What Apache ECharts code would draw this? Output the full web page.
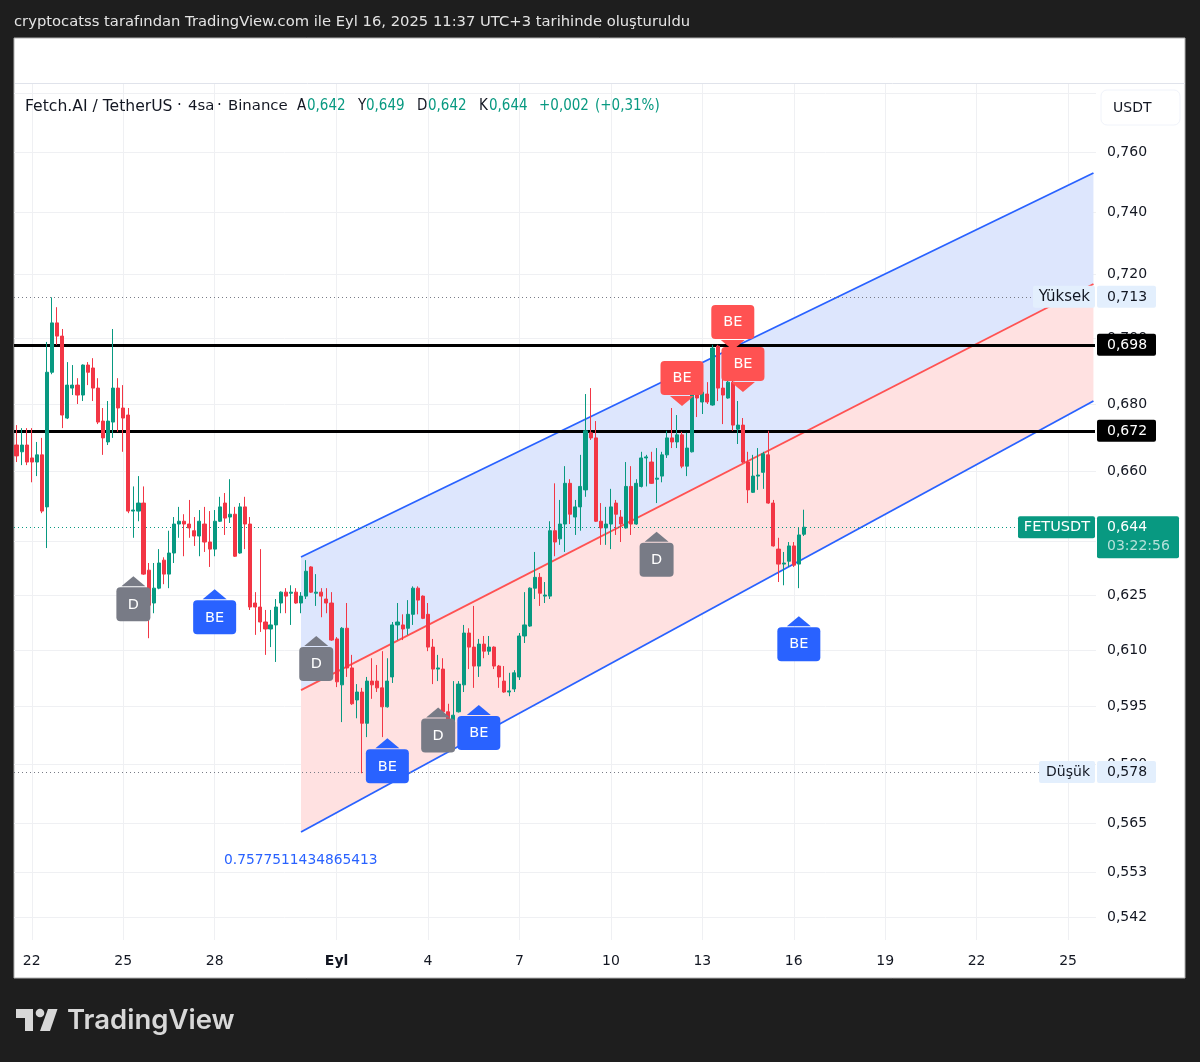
<!DOCTYPE html>
<html><head><meta charset="utf-8">
<style>html,body{margin:0;padding:0;background:#1e1e1e}#c{width:1200px;height:1062px}</style>
<script src="https://cdn.jsdelivr.net/npm/echarts@6/dist/echarts.min.js"></script>
</head><body><div id="c"></div>
<script>
// ---------- data ----------
const opens=[.6678,.6658,.6678,.6640,.6628,.6649,.6498,.6896,.7048,.7007,
.6758,.6848,.6857,.6827,.6918,.6909,.6848,.6749,.6687,.6746,
.6848,.6788,.6767,.6486,.6486,.6509,.6319,.6228,.6269,.6347,
.6308,.6367,.6449,.6457,.6449,.6430,.6415,.6449,.6398,.6378,
.6457,.6509,.6469,.6477,.6367,.6498,.6449,.6228,.6217,.6176,
.6157,.6168,.6228,.6258,.6255,.6258,.6228,.6247,.6328,.6255,
.6258,.6239,.6228,.6130,.6007,.6159,.6052,.5967,.5988,.5906,
.6017,.6017,.5999,.5949,.6028,.6168,.6168,.6159,.6197,.6269,
.6247,.6197,.6108,.6049,.6049,.5936,.5906,.5936,.6007,.6146,
.6108,.6057,.6116,.6097,.6108,.6057,.6017,.5988,.5996,.6028,
.6138,.6165,.6269,.6299,.6247,.6247,.6430,.6407,.6449,.6566,
.6469,.6498,.6547,.6714,.6699,.6457,.6438,.6449,.6509,.6469,
.6438,.6557,.6449,.6557,.6640,.6628,.6578,.6587,.6649,.6699,
.6687,.6708,.6616,.6658,.6836,.6806,.6830,.6797,.6976,.6848,
.6818,.6866,.6725,.6737,.6628,.6540,.6587,.6598,.6649,.6509,
.6378,.6336,.6344,.6387,.6336,.642];
const highs=[.6737,.6728,.6728,.6728,.6687,.6699,.6989,.7128,.7097,.7029,
.6927,.6918,.6878,.6920,.6927,.6939,.6878,.6788,.6809,.7029,
.6878,.6857,.6788,.6557,.6587,.6557,.6339,.6339,.6378,.6355,
.6430,.6469,.6498,.6477,.6518,.6469,.6489,.6498,.6486,.6489,
.6527,.6538,.6578,.6498,.6509,.6527,.6469,.6258,.6378,.6209,
.6209,.6239,.6260,.6269,.6277,.6269,.6258,.6347,.6330,.6308,
.6269,.6269,.6258,.6135,.6162,.6228,.6087,.6009,.5999,.6028,
.6078,.6060,.6097,.6078,.6176,.6228,.6197,.6236,.6274,.6274,
.6249,.6228,.6130,.6087,.6078,.5957,.6017,.6017,.6168,.6159,
.6220,.6130,.6138,.6138,.6110,.6060,.6057,.6039,.6046,.6146,
.6258,.6271,.6370,.6311,.6286,.6457,.6566,.6518,.6616,.6578,
.6518,.6649,.6830,.6848,.6749,.6509,.6498,.6550,.6518,.6489,
.6628,.6616,.6578,.6658,.6649,.6658,.6669,.6658,.6720,.6788,
.6767,.6717,.6714,.6839,.6857,.6857,.6866,.6980,.6980,.6887,
.6881,.6887,.6809,.6758,.6658,.6649,.6669,.6658,.6720,.6518,
.6410,.6370,.6398,.6398,.6440,.649];
const lows=[.6628,.6619,.6619,.6569,.6587,.6480,.6381,.6890,.6980,.6728,
.6755,.6827,.6800,.6809,.6857,.6809,.6740,.6649,.6678,.6699,
.6717,.6658,.6480,.6410,.6457,.6306,.6132,.6200,.6266,.6280,
.6269,.6339,.6410,.6358,.6410,.6387,.6358,.6370,.6328,.6358,
.6455,.6418,.6452,.6356,.6365,.6378,.6209,.6141,.6149,.6087,
.6108,.6068,.6200,.6200,.6168,.6226,.6200,.6239,.6256,.6220,
.6189,.6200,.6125,.6001,.5909,.6028,.5954,.5919,.5777,.5870,
.5970,.5988,.5870,.5947,.6012,.6127,.6127,.6141,.6168,.6197,
.6184,.6097,.6009,.6017,.5933,.5891,.5904,.5934,.5988,.6049,
.5999,.6028,.6078,.6087,.6049,.5999,.5986,.5977,.5988,.6020,
.6119,.6163,.6239,.6220,.6228,.6239,.6358,.6390,.6370,.6449,
.6418,.6430,.6527,.6693,.6455,.6390,.6390,.6378,.6418,.6398,
.6436,.6418,.6447,.6554,.6557,.6564,.6509,.6569,.6640,.6669,
.6669,.6610,.6587,.6656,.6761,.6770,.6800,.6795,.6809,.6740,
.6816,.6720,.6681,.6625,.6509,.6538,.6547,.6550,.6507,.6385,
.6286,.6277,.6328,.6328,.6269,.6415];
const closes=[.6646,.6678,.6628,.6628,.6649,.6486,.6896,.7048,.7007,.6767,
.6857,.6857,.6827,.6918,.6896,.6848,.6746,.6699,.6749,.6848,
.6788,.6758,.6486,.6489,.6509,.6308,.6222,.6269,.6339,.6308,
.6367,.6449,.6457,.6449,.6438,.6415,.6457,.6398,.6378,.6457,
.6498,.6466,.6477,.6358,.6498,.6449,.6217,.6217,.6176,.6157,
.6168,.6217,.6258,.6247,.6258,.6228,.6247,.6316,.6258,.6258,
.6247,.6228,.6127,.6015,.6159,.6052,.5957,.5988,.5906,.6017,
.6007,.5999,.5949,.6017,.6168,.6176,.6157,.6197,.6269,.6236,
.6186,.6108,.6049,.6052,.5936,.5914,.5927,.6009,.6146,.6108,
.6057,.6116,.6097,.6108,.6057,.6028,.5988,.5991,.6039,.6138,
.6168,.6269,.6299,.6255,.6250,.6430,.6398,.6449,.6566,.6477,
.6498,.6557,.6720,.6699,.6457,.6438,.6449,.6498,.6477,.6449,
.6557,.6449,.6566,.6640,.6643,.6566,.6581,.6649,.6699,.6687,
.6708,.6616,.6669,.6836,.6818,.6836,.6806,.6970,.6848,.6827,
.6866,.6737,.6737,.6628,.6547,.6587,.6590,.6652,.6509,.6387,
.6336,.6339,.6387,.6333,.6418,.644];
const dayNames=['22','25','28','Eyl','4','7','10','13','16','19','22','25'];
const dayBars=[3,21,39,63,81,99,117,135,153,171,189,207];
const barCount=213;
const yGridTicks=[.78,.76,.74,.72,.70,.68,.66,.64,.625,.61,.595,.58,.565,.553,.542];
const yLabelTicks=[.76,.74,.72,.70,.68,.66,.64,.625,.61,.595,.58,.565,.553,.542];
const upperChannel=[[56,.6356],[212,.7530]];
const midChannel=[[56,.5993],[212,.7170]];
const lowerChannel=[[56,.5629],[212,.6809]];
const levelPrices=[.713,.578,.644,.698,.672];
const tagBars=[23,39,59,73,83,91,126,154,131,141,143];
const tagPrices=[.6302,.6266,.6138,.5867,.5947,.5954,.6427,.6192,.6794,.6964,.6836];
const tagTexts=['D','BE','D','BE','D','BE','D','BE','BE','BE','BE'];
const legendParts=[['Fetch.AI / TetherUS',25,0,15.6],['·',177,0,15],['4sa',188,0,14.9],['·',217,0,15],['Binance',228,0,14.9],['A',297,0],['0,642',307,1],['Y',358,0],['0,649',366,1],['D',417,0],['0,642',428,1],['K',479,0],['0,644',489,1],['+0,002',539,1],['(+0,31%)',595,1]];
const priceTags=[
 {p:.713,side:'Yüksek',val:'0,713',bg:'#e3effd',fg:'#131722',sideW:62,sf:15},
 {p:.578,side:'Düşük',val:'0,578',bg:'#e3effd',fg:'#131722',sideW:56,sf:14},
 {p:.698,val:'0,698',bg:'#000',fg:'#fff'},
 {p:.672,val:'0,672',bg:'#000',fg:'#fff'},
 {p:.644,side:'FETUSDT',val:'0,644',sub:'03:22:56',bg:'#089981',fg:'#fff',sideW:77,sf:14.5}
];
const creditText='cryptocatss tarafından TradingView.com ile Eyl 16, 2025 11:37 UTC+3 tarihinde oluşturuldu';
const channelValue='0.7577511434865413';
// ---------- derived ----------
const cats=[];for(let i=0;i<barCount;i++){const k=dayBars.indexOf(i);cats.push(k>=0?dayNames[k]:'b'+i);}
const candles=opens.map((o,i)=>[o,closes[i],lows[i],highs[i]]);
const ff='"DejaVu Sans"';
const GREEN='#089981',RED='#f23645',BLUE='#2962ff';
function band(a,b,fill){return {a,b,fill};}
const bands=[band(upperChannel,midChannel,'#dde6fd'),band(midChannel,lowerChannel,'#ffe1e1')];
const levelStyle=[
 {stroke:'#787b86',lineWidth:1,lineDash:[1,3]},{stroke:'#787b86',lineWidth:1,lineDash:[1,3]},
 {stroke:GREEN,lineWidth:1,lineDash:[1,3]},{stroke:'#000',lineWidth:3},{stroke:'#000',lineWidth:3}];
const chart=echarts.init(document.getElementById('c'),null,{renderer:'canvas'});
const g=[
 {type:'rect',z:-10,shape:{x:14,y:38,width:1171,height:940},style:{fill:'#fff',stroke:'#b0b0b0',lineWidth:1}},
 {type:'line',z:-9,shape:{x1:15,y1:83.5,x2:1185,y2:83.5},style:{stroke:'#e0e3eb',lineWidth:1}},
 {type:'text',z:20,style:{x:14,y:22.5,text:creditText,fill:'#e4e4e4',font:'14.75px '+ff,verticalAlign:'middle'}},
 {type:'text',z:20,style:{x:224,y:860.5,text:channelValue,fill:BLUE,font:'13.8px '+ff,verticalAlign:'middle'}},
 {type:'rect',z:20,shape:{x:1101,y:90,width:79,height:35,r:6},style:{fill:'#fff',stroke:'#f0f3fa',lineWidth:1}},
 {type:'text',z:21,style:{x:1113,y:108.5,text:'USDT',fill:'#131722',font:'14px '+ff,verticalAlign:'middle'}},
 {type:'polygon',z:20,shape:{points:[[16,1009],[33,1009],[33,1031],[25,1031],[25,1018],[16,1018]]},style:{fill:'#d8d8d8'}},
 {type:'circle',z:20,shape:{cx:40,cy:1013,r:4.3},style:{fill:'#d8d8d8'}},
 {type:'polygon',z:20,shape:{points:[[48,1009],[57.5,1009],[50,1031],[40,1031]]},style:{fill:'#d8d8d8'}},
 {type:'text',z:20,style:{x:67,y:1021,text:'TradingView',fill:'#d8d8d8',font:'600 27.5px Inter',verticalAlign:'middle'}}
];
legendParts.forEach(p=>g.push({type:'text',z:20,style:{x:p[1],y:106.5,text:p[0],fill:p[2]?GREEN:'#131722',font:p[3]?p[3]+'px '+ff:'15px "DejaVu Sans Condensed"',verticalAlign:'middle'}}));

chart.setOption({
 animation:false,backgroundColor:'#1e1e1e',
 graphic:g,
 grid:{left:14,top:84,width:1082,height:856,containLabel:false},
 xAxis:{type:'category',data:cats,boundaryGap:true,
  axisLine:{show:false},axisTick:{show:false},
  splitLine:{show:true,alignWithLabel:true,interval:(i)=>dayBars.includes(i),lineStyle:{color:'#eff0f3',width:1}},
  axisLabel:{interval:(i)=>dayBars.includes(i),margin:14,color:'#131722',fontFamily:ff,fontSize:14,
   formatter:v=>v==='Eyl'?'{b|Eyl}':v,rich:{b:{fontWeight:'bold',fontSize:14,fontFamily:ff,color:'#131722'}}}},
 yAxis:{type:'log',logBase:10,position:'right',min:.5367,max:.7832,
  axisLine:{show:false},axisTick:{show:false,customValues:yGridTicks},
  splitLine:{show:true,lineStyle:{color:'#eff0f3',width:1}},
  axisLabel:{customValues:yLabelTicks,margin:11,color:'#131722',fontFamily:ff,fontSize:14,padding:[4,0,0,0],
   formatter:v=>(+v).toFixed(3).replace('.',',')}},
 series:[
  {name:'bands',type:'custom',z:1,silent:true,data:bands.map(b=>[b.a[0][0],b.a[0][1]]),
   renderItem:(params,api)=>{const b=bands[params.dataIndex];
    const pts=[api.coord(b.a[0]),api.coord(b.a[1]),api.coord(b.b[1]),api.coord(b.b[0])];
    return {type:'polygon',shape:{points:pts},style:{fill:b.fill}};}},
  {name:'upper',type:'line',z:2,silent:true,data:upperChannel,symbol:'none',lineStyle:{color:BLUE,width:1.8}},
  {name:'mid',type:'line',z:2,silent:true,data:midChannel,symbol:'none',lineStyle:{color:'#ff5252',width:1.8}},
  {name:'lower',type:'line',z:2,silent:true,data:lowerChannel,symbol:'none',lineStyle:{color:BLUE,width:1.8}},
  {name:'levels',type:'custom',z:3,silent:true,data:levelPrices.map(p=>[0,p]),
   renderItem:(params,api)=>{const p=levelPrices[params.dataIndex];const y=Math.round(api.coord([0,p])[1])+0.5;const c=params.coordSys;
    return {type:'line',shape:{x1:c.x,y1:y,x2:c.x+c.width-1,y2:y},style:levelStyle[params.dataIndex]};}},
  {name:'FETUSDT',type:'candlestick',z:4,silent:true,data:candles,barWidth:3.6,
   itemStyle:{color:GREEN,color0:RED,borderColor:GREEN,borderColor0:RED,borderWidth:1}},
  {name:'signals',type:'custom',z:6,silent:true,data:tagBars.map((b,i)=>[b,tagPrices[i]]),
   renderItem:(params,api)=>{const i=params.dataIndex;const t=tagTexts[i];const [x,y]=api.coord([tagBars[i],tagPrices[i]]);
    const red=i>=8;const col=t==='D'?'#787b86':(red?'#ff5252':BLUE);const w=t==='D'?34:43,h=34,ah=11,aw=12;
    const ry=red?y-ah-h:y+ah;const baseY=red?y-ah+1:y+ah-1;
    return {type:'group',children:[
     {type:'polygon',shape:{points:[[x,y],[x-aw,baseY],[x+aw,baseY]]},style:{fill:col}},
     {type:'rect',shape:{x:x-w/2,y:ry,width:w,height:h,r:4},style:{fill:col}},
     {type:'text',style:{x:x,y:ry+h/2+0.5,text:t,fill:'#fff',font:'14.5px '+ff,align:'center',verticalAlign:'middle'}}]};}},
  {name:'priceTags',type:'custom',z:8,silent:true,data:priceTags.map(t=>[0,t.p]),
   renderItem:(params,api)=>{const t=priceTags[params.dataIndex];const y=api.coord([0,t.p])[1];const ch=[];
    const top=y-11,h=t.sub?42:22,bx=1097,bw=t.sub?82:59;
    ch.push({type:'rect',shape:{x:bx,y:top,width:bw,height:h,r:2},style:{fill:t.bg}});
    ch.push({type:'text',style:{x:1107,y:y+0.5,text:t.val,fill:t.fg,font:'14px '+ff,verticalAlign:'middle'}});
    if(t.sub)ch.push({type:'text',style:{x:1107,y:y+19.5,text:t.sub,fill:'rgba(255,255,255,0.7)',font:'14px '+ff,verticalAlign:'middle'}});
    if(t.side){const w=t.sideW;ch.push({type:'rect',shape:{x:1095-w,y:top,width:w,height:22,r:2},style:{fill:t.bg}});
     ch.push({type:'text',style:{x:1090,y:y+0.5,text:t.side,fill:t.fg,font:t.sf+'px '+ff,align:'right',verticalAlign:'middle'}});}
    return {type:'group',children:ch};}}
 ]
});
</script></body></html>
